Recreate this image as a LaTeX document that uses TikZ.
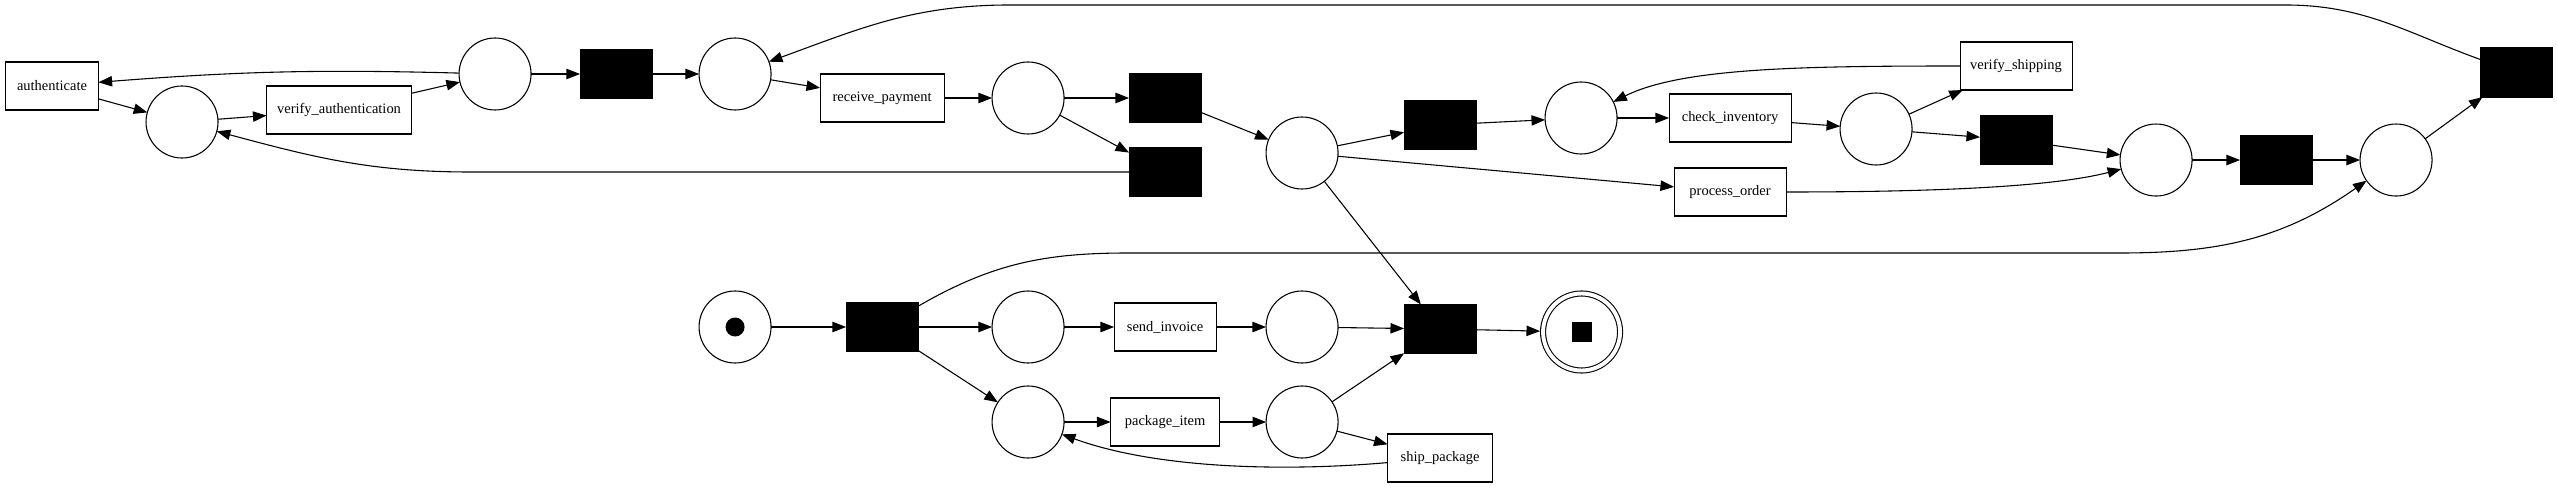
\documentclass[tikz,border=0pt]{standalone}
\usepackage{fontspec}
\setmainfont{Liberation Serif}
\usepackage{tikz}
\usetikzlibrary{positioning, arrows.meta}

\begin{document}
\begin{tikzpicture}
[
place-a/.style={circle, draw, line width=0.27mm, minimum size=18mm, inner sep=0pt, outer sep=0pt},
place-b/.style={circle, draw, line width=0.27mm, double, double distance=0.98mm, minimum size=19.25mm, inner sep=0pt, outer sep=0.75mm},
trans-a/.style={rectangle, draw, fill=black, line width=0.27mm, minimum width=18mm, minimum height=12.25mm, inner sep=0pt, outer sep=0pt},
task-a/.style={rectangle, draw, line width=0.27mm, minimum height=12mm, inner sep=1mm, outer sep=0pt, font=\fontsize{10.3}{12}\selectfont},
token-a/.style={circle, fill=black, minimum size=4.75mm, inner sep=0pt},
token-b/.style={rectangle, fill=black, minimum size=5mm, inner sep=0pt},
arc-a/.style={-{Triangle[length=3.4mm, width=2.6mm]}, line width=0.27mm}
]
\useasboundingbox (0,0) rectangle (639.25mm,122.00mm);
\node (auth)     [task-a, minimum width=23.25mm] at (13.00mm,100.50mm)                  {authenticate};
\node (p-1)      [place-a, right = 11.88mm of auth, yshift=-9.00mm]                      {};
\node (ver-auth) [task-a, minimum width=36.25mm, right = 12.13mm of p-1, yshift=3.00mm]  {verify\_authentication};
\node (p-2)      [place-a, right = 11.88mm of ver-auth, yshift=9.00mm]                   {};
\node (t-1)      [trans-a, right = 12.25mm of p-2]                                       {};
\node (p-3)      [place-a, right = 11.75mm of t-1]                                       {};
\node (rec-pay)  [task-a, minimum width=31.00mm, right = 12.25mm of p-3, yshift=-6.00mm] {receive\_payment};
\node (p-4)      [place-a, right = 12.00mm of rec-pay]                                   {};
\node (t-2)      [trans-a, right = 16.25mm of p-4]                                       {};
\node (t-3)      [trans-a, below = 06.25mm of t-2]                                       {};
\node (p-5)      [place-a, right = 16.25mm of t-2, yshift=-13.75mm]                      {};
\node (t-4)      [trans-a, right = 16.50mm of p-5, yshift=7.00mm]                        {};
\node (p-6)      [place-a, right = 17.25mm of t-4, yshift=1.75mm]                        {};
\node (chk-inv)  [task-a, minimum width=30.50mm, right = 13.00mm of p-6]                 {check\_inventory};
\node (proc-ord) [task-a, minimum width=28.00mm, below = 06.50mm of chk-inv]             {process\_order};
\node (p-7)      [place-a, right = 12.25mm of chk-inv, yshift=-2.75mm]                   {};
\node (ver-ship) [task-a, minimum width=28.00mm, right = 12.00mm of p-7, yshift=15.75mm] {verify\_shipping};
\node (t-5)      [trans-a, below = 06.38mm of ver-ship]                                  {};
\node (p-8)      [place-a, right = 17.00mm of t-5, yshift=-5.00mm]                       {};
\node (t-6)      [trans-a, right = 12.00mm of p-8]                                       {};
\node (p-9)      [place-a, right = 12.00mm of t-6]                                       {};
\node (t-7)      [trans-a, right = 12.00mm of p-9, yshift=21.88mm]                       {};
\node (p-s)      [place-a, below = 45.25mm of p-3]                                       {};
\node (tok-s)    [token-a] at (p-s)                                                      {};
\node (t-8)      [trans-a, right = 18.75mm of p-s]                                       {};
\node (p-10)     [place-a, right = 18.50mm of t-8]                                       {};
\node (send-inv) [task-a, minimum width=25.50mm, right = 12.50mm of p-10]                {send\_invoice};
\node (p-11)     [place-a, right = 12.50mm of send-inv]                                  {};
\node (t-9)      [trans-a, right = 16.50mm of p-11, yshift=-0.50mm]                      {};
\node (p-e)      [place-b, right = 16.00mm of t-9, yshift=-0.75mm]                       {};
\node (tok-e)    [token-b] at (p-e)                                                      {};
\node (p-12)     [place-a, below = 05.75mm of p-10]                                      {};
\node (pkg-item) [task-a, minimum width=27.25mm, right = 11.63mm of p-12]                {package\_item};
\node (p-13)     [place-a, right = 11.63mm of pkg-item]                                  {};
\node (ship-pkg) [task-a, minimum width=26.25mm, right = 12.38mm of p-13, yshift=-9.00mm] {ship\_package};
\draw [arc-a] (auth)     -- (p-1);
\draw [arc-a] (p-1)      -- (ver-auth);
\draw [arc-a] (ver-auth) -- (p-2);
\draw [arc-a] (p-2)      to [bend right=3] (auth);
\draw [arc-a] (p-2)      -- (t-1);
\draw [arc-a] (t-1)      -- (p-3);
\draw [arc-a] (p-3)      -- (rec-pay);
\draw [arc-a] (rec-pay)  -- (p-4);
\draw [arc-a] (p-4)      -- (t-2);
\draw [arc-a] (p-4)      -- (t-3);
\draw [arc-a] (t-3.west) -- ++(-164.50mm,0mm) to [out=180, in=-15] (p-1);
\draw [arc-a] (t-2)      -- (p-5);
\draw [arc-a] (p-5)      -- (t-4);
\draw [arc-a] (t-4)      -- (p-6);
\draw [arc-a] (p-6)      -- (chk-inv);
\draw [arc-a] (chk-inv)  -- (p-7);
\draw [arc-a] (p-7)      -- (ver-ship);
\draw [arc-a] (ver-ship.west) .. controls +(-40.00mm,0.00mm) and +(25.00mm,12.50mm) .. (p-6);
\draw [arc-a] (p-7)      -- (t-5);
\draw [arc-a] (t-5)      -- (p-8);
\draw [arc-a] (p-5)      -- (proc-ord);
\draw [arc-a] (proc-ord.east) .. controls +(40.00mm,0.00mm) and +(-25.00mm,-6.50mm) .. (p-8);
\draw [arc-a] (p-8)      -- (t-6);
\draw [arc-a] (t-6)      -- (p-9);
\draw [arc-a] (p-9)      -- (t-7);
\draw [arc-a] (t-7)      to [out=160, in=0] ++(-57.75mm,16.88mm) -- ++(-318.75mm,0mm) to [out=180, in=20] (p-3);
\draw [arc-a] (p-5)      -- (t-9);
\draw [arc-a] (p-s)      -- (t-8);
\draw [arc-a] (t-8)      -- (p-10);
\draw [arc-a] (t-8)      -- (p-12);
\draw [arc-a] (t-8)      to [out=30, in=180] ++(61.50mm,18.50mm) -- ++(248.00mm,0mm) to [out=0, in=215] (p-9);
\draw [arc-a] (p-10)     -- (send-inv);
\draw [arc-a] (send-inv) -- (p-11);
\draw [arc-a] (p-11)     -- (t-9);
\draw [arc-a] (p-12)     -- (pkg-item);
\draw [arc-a] (pkg-item) -- (p-13);
\draw [arc-a] (p-13)     -- (t-9);
\draw [arc-a] (p-13)     -- (ship-pkg);
\draw [arc-a] (ship-pkg) to [out=185, in=-20, looseness=0.8] (p-12);
\draw [arc-a] (t-9)      -- (p-e);
\end{tikzpicture}
\end{document}
